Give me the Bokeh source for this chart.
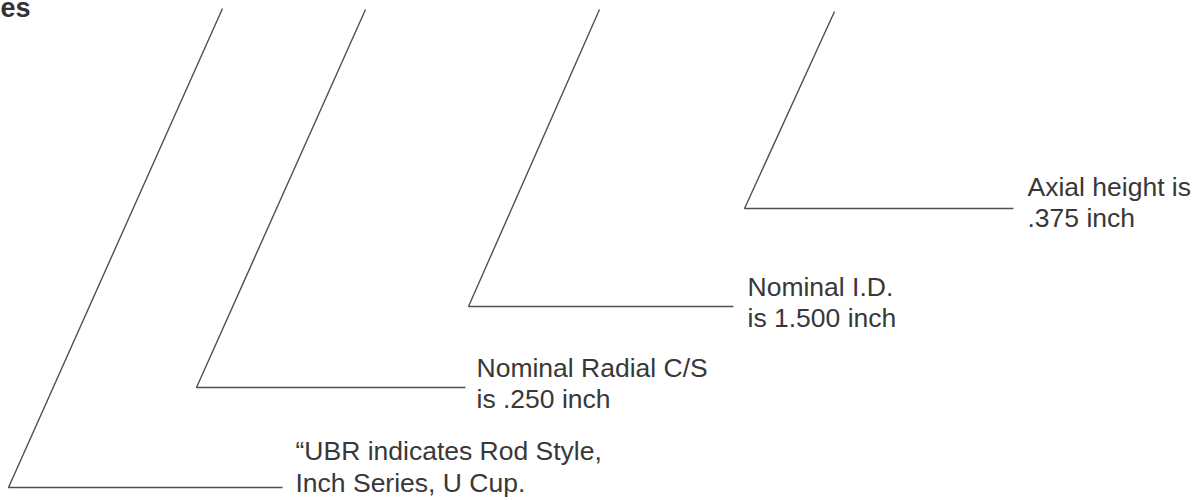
from bokeh.plotting import figure
from bokeh.models import Range1d, ColumnDataSource
from bokeh.core.properties import value
from bokeh.embed import file_html
from bokeh.resources import INLINE

# Leader lines (reference image pixel coordinates): top point, elbow, end of horizontal run
leader_top_x = [222, 365, 599, 834]
leader_top_y = [8, 9, 9, 11]
leader_elbow_x = [8, 196, 468, 744]
leader_elbow_y = [487, 387, 306, 208]
leader_end_x = [282, 465, 733, 1013]

# Callout labels
label_line1 = ["\u201cUBR indicates Rod Style,", "Nominal Radial C/S", "Nominal I.D.", "Axial height is"]
label_line2 = ["Inch Series, U Cup.", "is .250 inch", "is 1.500 inch", ".375 inch"]
label_x = [295, 476, 747, 1027]
label_base1 = [460, 377, 296, 196]
label_base2 = [492, 408, 327, 227]

title_fragment = ["es"]

# renderer places the alphabetic baseline lower than requested; compensate
BASE_SHIFT = 10

p = figure(width=1202, height=500, x_range=Range1d(0, 1202), y_range=Range1d(500, 0),
           output_backend="svg", toolbar_location=None, min_border=0)
p.axis.visible = False
p.grid.visible = False
p.outline_line_color = None
p.background_fill_color = "white"
p.border_fill_color = "white"

xs = [[tx, ex, hx] for tx, ex, hx in zip(leader_top_x, leader_elbow_x, leader_end_x)]
ys = [[ty, ey, ey] for ty, ey in zip(leader_top_y, leader_elbow_y)]
p.multi_line(xs=xs, ys=ys, line_color="#505050", line_width=1.4)

font = value("Liberation Sans")
src1 = ColumnDataSource(dict(x=label_x, y=[b - BASE_SHIFT for b in label_base1], t=label_line1))
src2 = ColumnDataSource(dict(x=label_x, y=[b - BASE_SHIFT for b in label_base2], t=label_line2))
for src in (src1, src2):
    p.text(x="x", y="y", text="t", source=src, text_font=font, text_font_size="26.5px",
           text_color="#383838", text_baseline="alphabetic", text_align="left")

p.text(x=[0], y=[17 - BASE_SHIFT], text=title_fragment, text_font=font, text_font_size="27px",
       text_font_style="bold", text_color="#333333", text_baseline="alphabetic", text_align="left")

open("out.html", "w").write(file_html(p, INLINE))
